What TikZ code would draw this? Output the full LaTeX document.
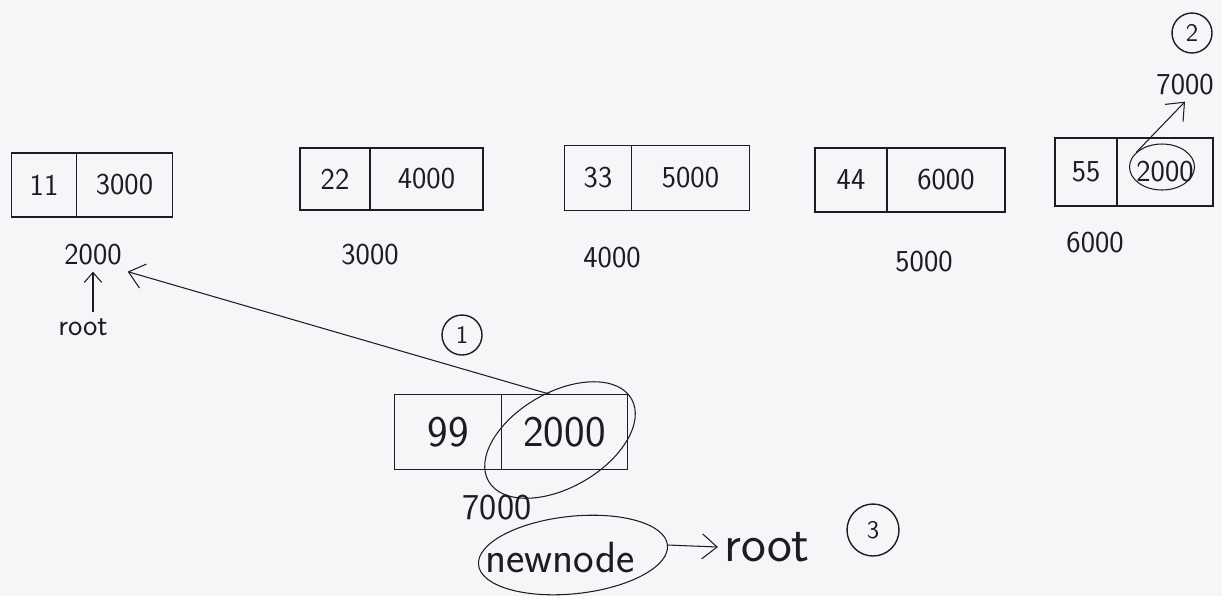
\documentclass[tikz,border=0pt]{standalone}
\usepackage{tikz}
\usetikzlibrary{arrows.meta}
\usetikzlibrary{positioning, backgrounds, shapes.geometric}
\definecolor{paper}{RGB}{248,245,248}
\definecolor{pen}{RGB}{28,28,34}

\begin{document}
\begin{tikzpicture}[background rectangle/.style={fill=paper}, show background rectangle, inner frame sep=0pt, x=0.02cm, y=-0.02cm]
		\tikzstyle{cell}=[rectangle, draw=pen, thick, inner sep=0pt, outer sep=0pt, text=pen, font=\sffamily\LARGE]
		\tikzstyle{addr}=[text=pen, font=\sffamily\LARGE]
		\tikzstyle{num}=[circle, draw=pen, thick, inner sep=0pt, text=pen, font=\sffamily\Large]
		\tikzstyle{ring}=[ellipse, draw=pen, semithick]
		\tikzstyle{connect}=[-{Straight Barb[length=3mm, width=5mm]}, semithick, draw=pen]
		\useasboundingbox (0,0) rectangle (1222,596);
		% the list
		\node[cell, minimum width=1.3cm, minimum height=1.28cm] (d1) at (44,185) {11};
		\node[cell, minimum width=1.92cm, minimum height=1.28cm, right=0pt of d1] (l1) {3000};
		\node[cell, minimum width=1.4cm, minimum height=1.24cm] (d2) at (335,179) {22};
		\node[cell, minimum width=2.26cm, minimum height=1.24cm, right=0pt of d2] (l2) {4000};
		\node[cell, minimum width=1.34cm, minimum height=1.3cm] (d3) at (598,178) {33};
		\node[cell, minimum width=2.36cm, minimum height=1.3cm, right=0pt of d3] (l3) {5000};
		\node[cell, minimum width=1.44cm, minimum height=1.28cm] (d4) at (851,180) {44};
		\node[cell, minimum width=2.36cm, minimum height=1.28cm, right=0pt of d4] (l4) {6000};
		\node[cell, minimum width=1.24cm, minimum height=1.36cm] (d5) at (1086,172) {55};
		\node[cell, minimum width=1.92cm, minimum height=1.36cm, right=0pt of d5] (l5) {2000};
		% addresses
		\node[addr] (a2000) at (93,255) {2000};
		\node[addr] (a3000) at (370,255) {3000};
		\node[addr] (a4000) at (612,258) {4000};
		\node[addr] (a5000) at (924,262) {5000};
		\node[addr] (a6000) at (1095,243) {6000};
		\node[addr] (rootA) at (83,327) {root};
		% new node
		\node[cell, font=\sffamily\Huge, minimum width=2.14cm, minimum height=1.5cm] (d99) at (448,432) {99};
		\node[cell, font=\sffamily\Huge, minimum width=2.52cm, minimum height=1.5cm, right=0pt of d99] (l99) {2000};
		\node[addr, font=\sffamily\huge] (a7000) at (497,508) {7000};
		\node[addr, font=\sffamily\Huge] (nn) at (560,557) {newnode};
		\node[addr, font=\sffamily\fontsize{30}{32}\selectfont] (root2) at (767,547) {root};
		\node[addr] (t7000) at (1185,85) {7000};
		% marks
		\node[ring, minimum width=3.3cm, minimum height=1.9cm, rotate=30] (r99) at (560,440) {};
		\node[ring, minimum width=1.3cm, minimum height=0.92cm] (r55) at (1162,167) {};
		\node[ring, minimum width=3.8cm, minimum height=1.55cm, rotate=6] (rnn) at (573,555) {};
		\node[num, minimum size=0.8cm] (s1) at (462,335) {1};
		\node[num, minimum size=0.8cm] (s2) at (1192,33) {2};
		\node[num, minimum size=1.04cm] (s3) at (873,530) {3};
		\path
		(rootA.north -| a2000) edge [connect, -{Straight Barb[length=2mm, width=3.5mm]}] (a2000.south)
		(l99.110) edge [connect] (a2000.south east)
		(r55.150) edge [connect] (t7000.south)
		(rnn.east) edge [connect] (root2.west)
		;
	\end{tikzpicture}
\end{document}
